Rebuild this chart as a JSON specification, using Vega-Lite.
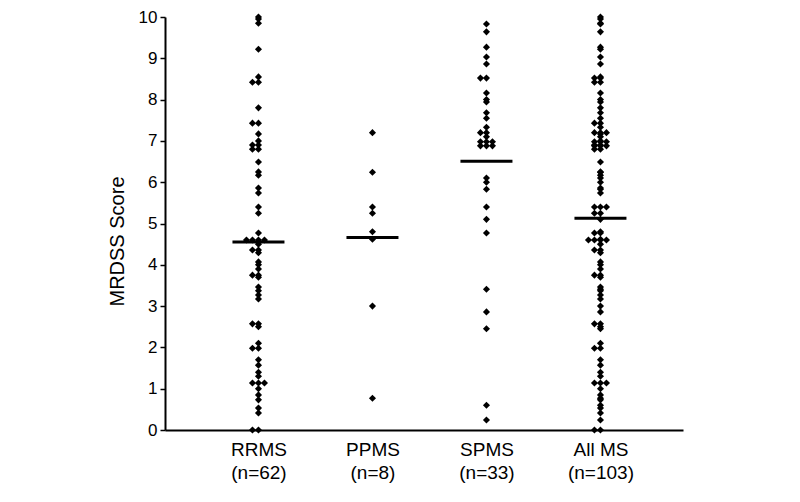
{
  "$schema": "https://vega.github.io/schema/vega-lite/v6.json",
  "width": 518,
  "height": 413,
  "autosize": {"type": "none"},
  "padding": {"left": 165, "top": 17, "right": 117, "bottom": 72},
  "background": "white",
  "config": {"view": {"stroke": null}, "font": "Liberation Sans"},
  "datasets": {
    "pts": [
      {"g":"RRMS","v":10},{"g":"RRMS","v":9.95},{"g":"RRMS","v":9.85},{"g":"RRMS","v":9.22},{"g":"RRMS","v":8.55},{"g":"RRMS","v":8.42},{"g":"RRMS","v":8.42},{"g":"RRMS","v":7.8},{"g":"RRMS","v":7.43},{"g":"RRMS","v":7.43},
      {"g":"RRMS","v":7.17},{"g":"RRMS","v":7.0},{"g":"RRMS","v":6.9},{"g":"RRMS","v":6.9},{"g":"RRMS","v":6.8},{"g":"RRMS","v":6.8},{"g":"RRMS","v":6.49},{"g":"RRMS","v":6.25},{"g":"RRMS","v":6.17},{"g":"RRMS","v":5.86},
      {"g":"RRMS","v":5.74},{"g":"RRMS","v":5.4},{"g":"RRMS","v":5.25},{"g":"RRMS","v":4.77},{"g":"RRMS","v":4.6},{"g":"RRMS","v":4.6},{"g":"RRMS","v":4.6},{"g":"RRMS","v":4.6},{"g":"RRMS","v":4.5},{"g":"RRMS","v":4.36},
      {"g":"RRMS","v":4.36},{"g":"RRMS","v":4.29},{"g":"RRMS","v":4.07},{"g":"RRMS","v":4.0},{"g":"RRMS","v":3.9},{"g":"RRMS","v":3.75},{"g":"RRMS","v":3.75},{"g":"RRMS","v":3.7},{"g":"RRMS","v":3.46},{"g":"RRMS","v":3.37},
      {"g":"RRMS","v":3.27},{"g":"RRMS","v":3.17},{"g":"RRMS","v":2.57},{"g":"RRMS","v":2.57},{"g":"RRMS","v":2.5},{"g":"RRMS","v":2.1},{"g":"RRMS","v":1.98},{"g":"RRMS","v":1.98},{"g":"RRMS","v":1.7},{"g":"RRMS","v":1.57},
      {"g":"RRMS","v":1.4},{"g":"RRMS","v":1.3},{"g":"RRMS","v":1.14},{"g":"RRMS","v":1.14},{"g":"RRMS","v":1.14},{"g":"RRMS","v":1.0},{"g":"RRMS","v":0.85},{"g":"RRMS","v":0.73},{"g":"RRMS","v":0.53},{"g":"RRMS","v":0.41},
      {"g":"RRMS","v":0},{"g":"RRMS","v":0},
      {"g":"PPMS","v":7.2},{"g":"PPMS","v":6.24},{"g":"PPMS","v":5.4},{"g":"PPMS","v":5.25},{"g":"PPMS","v":4.8},{"g":"PPMS","v":4.62},{"g":"PPMS","v":3.0},{"g":"PPMS","v":0.77},
      {"g":"SPMS","v":9.83},{"g":"SPMS","v":9.64},{"g":"SPMS","v":9.27},{"g":"SPMS","v":9.03},{"g":"SPMS","v":8.86},{"g":"SPMS","v":8.52},{"g":"SPMS","v":8.52},{"g":"SPMS","v":8.16},{"g":"SPMS","v":8.0},{"g":"SPMS","v":7.94},
      {"g":"SPMS","v":7.68},{"g":"SPMS","v":7.55},{"g":"SPMS","v":7.33},{"g":"SPMS","v":7.2},{"g":"SPMS","v":7.2},{"g":"SPMS","v":7.1},{"g":"SPMS","v":6.98},{"g":"SPMS","v":6.98},{"g":"SPMS","v":6.98},{"g":"SPMS","v":6.88},
      {"g":"SPMS","v":6.88},{"g":"SPMS","v":6.88},{"g":"SPMS","v":6.1},{"g":"SPMS","v":6.0},{"g":"SPMS","v":5.83},{"g":"SPMS","v":5.4},{"g":"SPMS","v":5.1},{"g":"SPMS","v":4.77},{"g":"SPMS","v":3.41},{"g":"SPMS","v":2.86},
      {"g":"SPMS","v":2.45},{"g":"SPMS","v":0.6},{"g":"SPMS","v":0.24},
      {"g":"All MS","v":10},{"g":"All MS","v":9.95},{"g":"All MS","v":9.85},{"g":"All MS","v":9.22},{"g":"All MS","v":8.55},{"g":"All MS","v":8.42},{"g":"All MS","v":8.42},{"g":"All MS","v":7.8},{"g":"All MS","v":7.43},{"g":"All MS","v":7.43},
      {"g":"All MS","v":7.17},{"g":"All MS","v":7.0},{"g":"All MS","v":6.9},{"g":"All MS","v":6.9},{"g":"All MS","v":6.8},{"g":"All MS","v":6.8},{"g":"All MS","v":6.49},{"g":"All MS","v":6.25},{"g":"All MS","v":6.17},{"g":"All MS","v":5.86},
      {"g":"All MS","v":5.74},{"g":"All MS","v":5.4},{"g":"All MS","v":5.25},{"g":"All MS","v":4.77},{"g":"All MS","v":4.6},{"g":"All MS","v":4.6},{"g":"All MS","v":4.6},{"g":"All MS","v":4.6},{"g":"All MS","v":4.5},{"g":"All MS","v":4.36},
      {"g":"All MS","v":4.36},{"g":"All MS","v":4.29},{"g":"All MS","v":4.07},{"g":"All MS","v":4.0},{"g":"All MS","v":3.9},{"g":"All MS","v":3.75},{"g":"All MS","v":3.75},{"g":"All MS","v":3.7},{"g":"All MS","v":3.46},{"g":"All MS","v":3.37},
      {"g":"All MS","v":3.27},{"g":"All MS","v":3.17},{"g":"All MS","v":2.57},{"g":"All MS","v":2.57},{"g":"All MS","v":2.5},{"g":"All MS","v":2.1},{"g":"All MS","v":1.98},{"g":"All MS","v":1.98},{"g":"All MS","v":1.7},{"g":"All MS","v":1.57},
      {"g":"All MS","v":1.4},{"g":"All MS","v":1.3},{"g":"All MS","v":1.14},{"g":"All MS","v":1.14},{"g":"All MS","v":1.14},{"g":"All MS","v":1.0},{"g":"All MS","v":0.85},{"g":"All MS","v":0.73},{"g":"All MS","v":0.53},{"g":"All MS","v":0.41},
      {"g":"All MS","v":0},{"g":"All MS","v":0},
      {"g":"All MS","v":7.2},{"g":"All MS","v":6.24},{"g":"All MS","v":5.4},{"g":"All MS","v":5.25},{"g":"All MS","v":4.8},{"g":"All MS","v":4.62},{"g":"All MS","v":3.0},{"g":"All MS","v":0.77},
      {"g":"All MS","v":9.83},{"g":"All MS","v":9.64},{"g":"All MS","v":9.27},{"g":"All MS","v":9.03},{"g":"All MS","v":8.86},{"g":"All MS","v":8.52},{"g":"All MS","v":8.52},{"g":"All MS","v":8.16},{"g":"All MS","v":8.0},{"g":"All MS","v":7.94},
      {"g":"All MS","v":7.68},{"g":"All MS","v":7.55},{"g":"All MS","v":7.33},{"g":"All MS","v":7.2},{"g":"All MS","v":7.2},{"g":"All MS","v":7.1},{"g":"All MS","v":6.98},{"g":"All MS","v":6.98},{"g":"All MS","v":6.98},{"g":"All MS","v":6.88},
      {"g":"All MS","v":6.88},{"g":"All MS","v":6.88},{"g":"All MS","v":6.1},{"g":"All MS","v":6.0},{"g":"All MS","v":5.83},{"g":"All MS","v":5.4},{"g":"All MS","v":5.1},{"g":"All MS","v":4.77},{"g":"All MS","v":3.41},{"g":"All MS","v":2.86},
      {"g":"All MS","v":2.45},{"g":"All MS","v":0.6},{"g":"All MS","v":0.24}
    ],
    "med": [
      {"g":"RRMS","m":4.55},{"g":"PPMS","m":4.66},{"g":"SPMS","m":6.51},{"g":"All MS","m":5.13}
    ]
  },
  "layer": [
    {
      "data": {"name": "pts"},
      "transform": [{"window": [{"op": "row_number", "as": "r"}], "groupby": ["g", "v"]}],
      "mark": {"type": "point", "shape": "diamond", "filled": true, "size": 50, "color": "#000", "opacity": 1},
      "encoding": {
        "x": {
          "field": "g", "type": "nominal",
          "scale": {"type": "point", "domain": ["RRMS", "PPMS", "SPMS", "All MS"], "padding": 0.772, "align": 0.531},
          "axis": {
            "title": null, "labelAngle": 0, "ticks": false,
            "domainColor": "#000", "domainWidth": 2,
            "labelFontSize": 19, "labelColor": "#000", "labelPadding": 10, "labelLineHeight": 23,
            "labelExpr": "datum.value == 'RRMS' ? ['RRMS','(n=62)'] : datum.value == 'PPMS' ? ['PPMS','(n=8)'] : datum.value == 'SPMS' ? ['SPMS','(n=33)'] : ['All MS','(n=103)']"
          }
        },
        "xOffset": {
          "field": "r", "type": "ordinal",
          "scale": {"type": "point", "domain": [10, 8, 6, 4, 2, 1, 3, 5, 7, 9, 11], "range": [-30, 30], "padding": 0}
        },
        "y": {
          "field": "v", "type": "quantitative",
          "scale": {"domain": [0, 10], "nice": false},
          "axis": {
            "title": "MRDSS Score", "titleFontSize": 20, "titleFontWeight": "normal", "titleColor": "#000", "titlePadding": 11, "titleY": 224,
            "values": [0, 1, 2, 3, 4, 5, 6, 7, 8, 9, 10],
            "labelFontSize": 17, "labelColor": "#000", "labelPadding": 3, "labelFlush": false,
            "tickSize": 5, "tickColor": "#000", "tickWidth": 1.5,
            "domainColor": "#000", "domainWidth": 2, "grid": false
          }
        }
      }
    },
    {
      "data": {"name": "med"},
      "mark": {"type": "tick", "size": 52, "thickness": 3, "color": "#000", "opacity": 1},
      "encoding": {
        "x": {"field": "g", "type": "nominal"},
        "y": {"field": "m", "type": "quantitative"}
      }
    }
  ]
}
